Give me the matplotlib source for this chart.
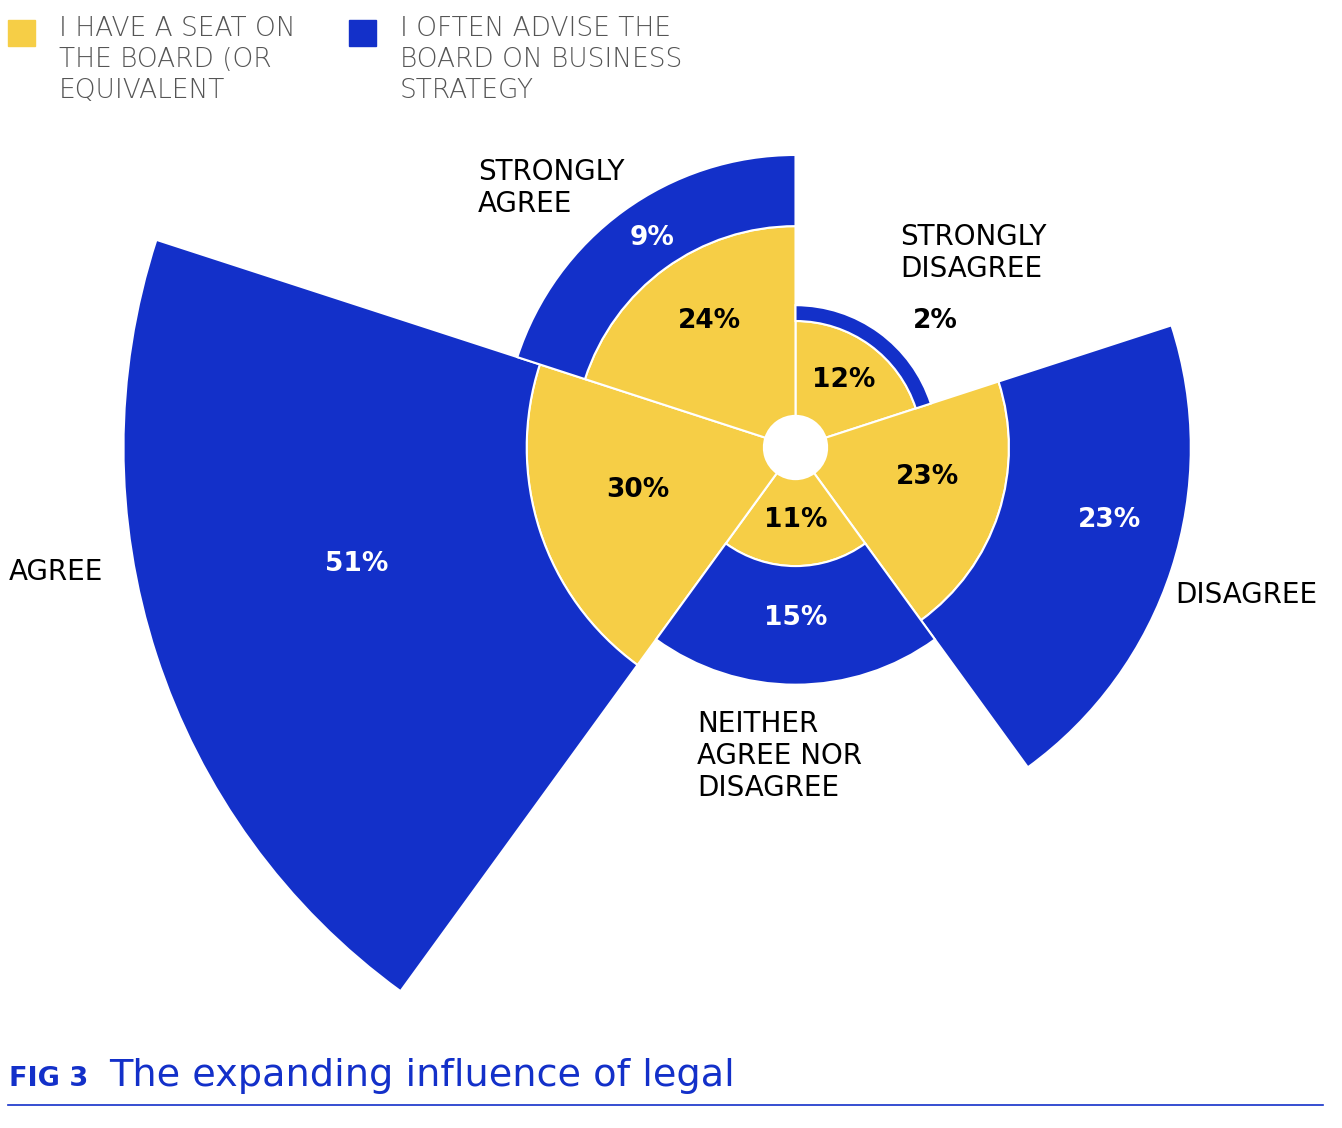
import numpy as np
import matplotlib
matplotlib.use("Agg")
import matplotlib.pyplot as plt
from matplotlib.patches import Rectangle
from matplotlib.lines import Line2D

# data, clockwise from 12 o'clock
categories = ["STRONGLY\nDISAGREE", "DISAGREE", "NEITHER\nAGREE NOR\nDISAGREE", "AGREE", "STRONGLY\nAGREE"]
seat_on_board = [12, 23, 11, 30, 24]
advise_board = [2, 23, 15, 51, 9]
legend_labels = ["I HAVE A SEAT ON\nTHE BOARD (OR\nEQUIVALENT", "I OFTEN ADVISE THE\nBOARD ON BUSINESS\nSTRATEGY"]

YELLOW = "#F6CE46"
BLUE = "#1330C9"
GRAY = "#555555"
plt.rcParams["font.family"] = ["DejaVu Sans"]

W, H = 1342, 1128
fig = plt.figure(figsize=(W / 100, H / 100), dpi=100)

# polar axes placed by pixel: centre and outer radius
cx, cy = 795.5, 447.5
hole = 4.0
rmax = max(s + a for s, a in zip(seat_on_board, advise_board))
px_per = 672 / (rmax + hole)
R = (rmax + hole) * px_per
ax = fig.add_axes([(cx - R) / W, (H - cy - R) / H, 2 * R / W, 2 * R / H], projection="polar")
ax.set_theta_zero_location("N")
ax.set_theta_direction(-1)
ax.set_ylim(0, rmax)
ax.set_rorigin(-hole)
ax.axis("off")

n = len(categories)
width = 2 * np.pi / n
theta = np.arange(n) * width + width / 2
ax.bar(theta, seat_on_board, width=width, bottom=0, color=YELLOW,
       edgecolor="white", linewidth=1.5, clip_on=False)
ax.bar(theta, advise_board, width=width, bottom=seat_on_board, color=BLUE,
       edgecolor="white", linewidth=1.5, clip_on=False)

# value labels: (angle in degrees, radius nudge) for inner and outer rings
inner_pos = [(35.2, 0.5), (102.4, 1.6), (180, -0.3), (254.8, 1.7), (325.7, 3.3)]
outer_pos = [(47.8, 6.8), (103, 2.2), (180, -0.9), (255.1, -2.0), (325.7, -0.4)]
for i in range(n):
    s, a = seat_on_board[i], advise_board[i]
    ang, dr = inner_pos[i]
    ax.text(np.deg2rad(ang), s / 2 + dr, f"{s}%", ha="center", va="center",
            fontsize=19, fontweight="bold", color="black")
    ang, dr = outer_pos[i]
    ax.text(np.deg2rad(ang), s + a / 2 + dr, f"{a}%", ha="center", va="center",
            fontsize=19, fontweight="bold", color="white" if a >= 5 else "black")

# category labels (pixel positions of the first line)
cat_pos = [(900, 237), (1175, 595), (697, 724), (9, 572), (478, 172)]
for lab, (x, y) in zip(categories, cat_pos):
    fig.text(x / W, 1 - (y - 14) / H, lab, ha="left", va="top", fontsize=20,
             color="black", linespacing=1.18)

# legend
for i, (lab, col) in enumerate(zip(legend_labels, [YELLOW, BLUE])):
    x0 = [8, 349][i]
    fig.patches.append(Rectangle((x0 / W, 1 - 46 / H), 27 / W, 26 / H,
                                 transform=fig.transFigure, color=col))
    fig.text((x0 + 51) / W, 1 - 16.5 / H, lab, ha="left", va="top", fontsize=19,
             color=GRAY, fontweight="light", linespacing=1.28)

# title
fig.text(9 / W, 1 - 1086 / H, "FIG 3", ha="left", va="baseline", fontsize=19.5,
         fontweight="bold", color=BLUE)
fig.text(109 / W, 1 - 1086 / H, "The expanding influence of legal", ha="left",
         va="baseline", fontsize=27.5, color=BLUE)
fig.lines.append(Line2D([8 / W, 1323 / W], [1 - 1105 / H, 1 - 1105 / H],
                        transform=fig.transFigure, color=BLUE, linewidth=1.2))

fig.savefig("out.png", dpi=100)
